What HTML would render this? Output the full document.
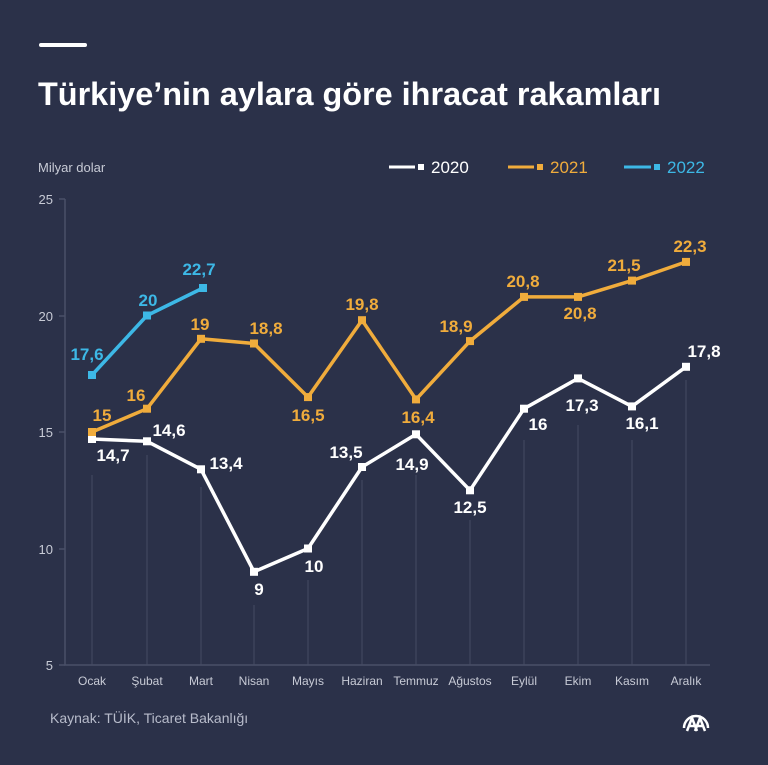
<!DOCTYPE html>
<html><head><meta charset="utf-8"><style>
body{margin:0;background:#2b3149;}
svg{display:block;font-family:"Liberation Sans",sans-serif;}
</style></head><body>
<svg width="768" height="765" viewBox="0 0 768 765">
<rect width="768" height="765" fill="#2b3149"/>
<rect x="39" y="43" width="48" height="4" rx="2" fill="#fff"/>
<text x="38" y="105" font-size="32" font-weight="bold" fill="#fff" textLength="623" lengthAdjust="spacingAndGlyphs">Türkiye’nin aylara göre ihracat rakamları</text>
<text x="38" y="172" font-size="13" fill="#c8cbd6">Milyar dolar</text>
<g font-size="17">
<line x1="389" y1="167" x2="415" y2="167" stroke="#fff" stroke-width="3"/><rect x="418" y="164" width="6" height="6" fill="#fff"/>
<text x="431" y="173" fill="#fff">2020</text>
<line x1="508" y1="167" x2="534" y2="167" stroke="#f0ac3c" stroke-width="3"/><rect x="537" y="164" width="6" height="6" fill="#f0ac3c"/>
<text x="550" y="173" fill="#f0ac3c">2021</text>
<line x1="624" y1="167" x2="651" y2="167" stroke="#3db8e6" stroke-width="3"/><rect x="654" y="164" width="6" height="6" fill="#3db8e6"/>
<text x="667" y="173" fill="#3db8e6">2022</text>
</g>
<g stroke="#4a5069" stroke-width="1.5" fill="none">
<path d="M65 199V665H710"/>
<path d="M59 199H65M59 316H65M59 432H65M59 549H65M59 665H65"/>
</g>
<g stroke="#454b63" stroke-width="1">
<path d="M92 475V665M147 455V665M201 487V665M254 605V665M308 580V665M362 480V665M416 475V665M470 520V665M524 440V665M578 425V665M632 440V665M686 380V665"/>
</g>
<g font-size="13" fill="#c8cbd6" text-anchor="end">
<text x="53" y="204">25</text><text x="53" y="321">20</text><text x="53" y="437">15</text><text x="53" y="554">10</text><text x="53" y="670">5</text>
</g>
<g font-size="12" fill="#c8cbd6" text-anchor="middle">
<text x="92" y="685">Ocak</text><text x="147" y="685">Şubat</text><text x="201" y="685">Mart</text><text x="254" y="685">Nisan</text><text x="308" y="685">Mayıs</text><text x="362" y="685">Haziran</text><text x="416" y="685">Temmuz</text><text x="470" y="685">Ağustos</text><text x="524" y="685">Eylül</text><text x="578" y="685">Ekim</text><text x="632" y="685">Kasım</text><text x="686" y="685">Aralık</text>
</g>
<text x="50" y="723" font-size="14" fill="#b8bccb">Kaynak: TÜİK, Ticaret Bakanlığı</text>
<g transform="translate(696,722)" stroke="#fff" fill="none" stroke-width="2.5">
<path d="M-12 6A12 12 0 0 1 12 6"/>
<path d="M-9 9L-4 -4L1 9M-6 4H-2M-1 9L4 -4L9 9M2 4H6"/>
</g>
<polyline fill="none" stroke="#fff" stroke-width="3.5" stroke-linejoin="round" points="92,439 147,441.3 201,469.3 254,571.8 308,548.5 362,467 416,434.3 470,490.3 524,408.7 578,378.4 632,406.4 686,366.8"/>
<polyline fill="none" stroke="#f0ac3c" stroke-width="3.5" stroke-linejoin="round" points="92,432 147,408.7 201,338.8 254,343.5 308,397.1 362,320.2 416,399.4 470,341.1 524,296.9 578,296.9 632,280.6 686,261.9"/>
<polyline fill="none" stroke="#3db8e6" stroke-width="3.5" stroke-linejoin="round" points="92,375 147,315.5 203,288"/>
<g fill="#fff">
<rect x="88" y="435" width="8" height="8"/><rect x="143" y="437.3" width="8" height="8"/><rect x="197" y="465.3" width="8" height="8"/><rect x="250" y="567.8" width="8" height="8"/><rect x="304" y="544.5" width="8" height="8"/><rect x="358" y="463" width="8" height="8"/><rect x="412" y="430.3" width="8" height="8"/><rect x="466" y="486.3" width="8" height="8"/><rect x="520" y="404.7" width="8" height="8"/><rect x="574" y="374.4" width="8" height="8"/><rect x="628" y="402.4" width="8" height="8"/><rect x="682" y="362.8" width="8" height="8"/>
</g>
<g fill="#f0ac3c">
<rect x="88" y="428" width="8" height="8"/><rect x="143" y="404.7" width="8" height="8"/><rect x="197" y="334.8" width="8" height="8"/><rect x="250" y="339.5" width="8" height="8"/><rect x="304" y="393.1" width="8" height="8"/><rect x="358" y="316.2" width="8" height="8"/><rect x="412" y="395.4" width="8" height="8"/><rect x="466" y="337.1" width="8" height="8"/><rect x="520" y="292.9" width="8" height="8"/><rect x="574" y="292.9" width="8" height="8"/><rect x="628" y="276.6" width="8" height="8"/><rect x="682" y="257.9" width="8" height="8"/>
</g>
<g fill="#3db8e6">
<rect x="88" y="371" width="8" height="8"/><rect x="143" y="311.5" width="8" height="8"/><rect x="199" y="284" width="8" height="8"/>
</g>
<g font-size="17" font-weight="bold" fill="#fff" text-anchor="middle">
<text x="113" y="461">14,7</text><text x="169" y="436">14,6</text><text x="226" y="469">13,4</text><text x="259" y="595">9</text><text x="314" y="572">10</text><text x="346" y="458">13,5</text><text x="412" y="470">14,9</text><text x="470" y="513">12,5</text><text x="538" y="430">16</text><text x="582" y="411">17,3</text><text x="642" y="429">16,1</text><text x="704" y="357">17,8</text>
</g>
<g font-size="17" font-weight="bold" fill="#f0ac3c" text-anchor="middle">
<text x="102" y="421">15</text><text x="136" y="401">16</text><text x="200" y="330">19</text><text x="266" y="334">18,8</text><text x="308" y="421">16,5</text><text x="362" y="310">19,8</text><text x="418" y="423">16,4</text><text x="456" y="332">18,9</text><text x="523" y="287">20,8</text><text x="580" y="319">20,8</text><text x="624" y="271">21,5</text><text x="690" y="252">22,3</text>
</g>
<g font-size="17" font-weight="bold" fill="#3db8e6" text-anchor="middle">
<text x="87" y="360">17,6</text><text x="148" y="306">20</text><text x="199" y="275">22,7</text>
</g>
</svg>
</body></html>
